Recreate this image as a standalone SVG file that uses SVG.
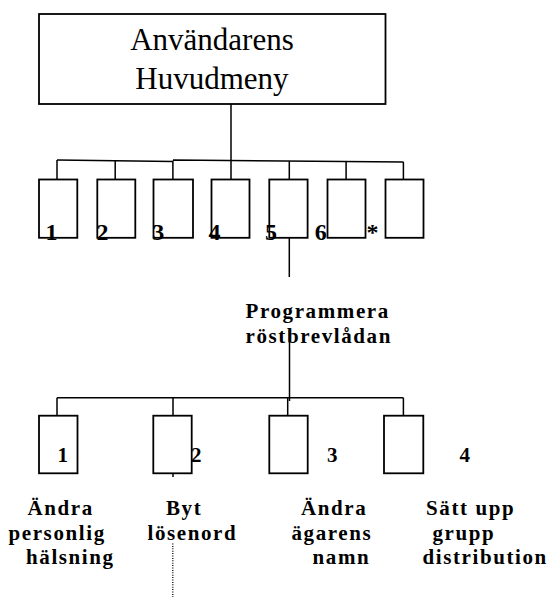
<svg xmlns="http://www.w3.org/2000/svg" width="551" height="597" viewBox="0 0 551 597">
<style>
.box{fill:#fff;stroke:#000;stroke-width:1.8}
.ln{fill:none;stroke:#000;stroke-width:1.5}
.dot{fill:none;stroke:#000;stroke-width:1.3;stroke-dasharray:1 1.4}
</style>
<rect width="551" height="597" fill="#fff"/>
<g id="connectors">
<path class="ln" d="M231 104 V160.5"/>
<path class="ln" d="M57 160 L173 161.5 M173 160 L403.4 162"/>
<path class="ln" d="M57 160 V179.5 M115.2 160.5 V179.5 M172.9 160.8 V179.5 M231 160.5 V179.5 M289.3 161 V179.5 M346.1 161.5 V179.5 M403.4 162 V179.5"/>
<path class="ln" d="M289.3 236 V277"/>
<path class="ln" d="M289.5 330 V401"/>
<path class="ln" d="M57 397.7 H403.4"/>
<path class="ln" d="M57 397.7 V415.7 M173 397.7 V415.7 M287.7 397.7 V415.7 M403.4 397.7 V415.7"/>
<path class="ln" d="M173 473 V477"/>
<path class="dot" d="M172.8 543.5 V597"/>
</g>
<g id="main-menu">
<rect class="box" x="39" y="14" width="346.5" height="90"/>
<text style="font-family:'Liberation Serif',serif;font-size:31px" x="212" y="50" text-anchor="middle">Användarens</text>
<text style="font-family:'Liberation Serif',serif;font-size:31px" x="212" y="89" text-anchor="middle">Huvudmeny</text>
</g>
<g id="m1"><rect class="box" x="39" y="179.5" width="38.3" height="58.3"/><text style="font-family:'Liberation Serif',serif;font-size:24px;font-weight:bold" x="45.5" y="240">1</text></g>
<g id="m2"><rect class="box" x="97.3" y="179.5" width="38" height="58.3"/><text style="font-family:'Liberation Serif',serif;font-size:24px;font-weight:bold" x="96.5" y="240">2</text></g>
<g id="m3"><rect class="box" x="153.5" y="179.5" width="39.5" height="58.3"/><text style="font-family:'Liberation Serif',serif;font-size:24px;font-weight:bold" x="152.3" y="240">3</text></g>
<g id="m4"><rect class="box" x="211.5" y="179.5" width="38" height="58.3"/><text style="font-family:'Liberation Serif',serif;font-size:24px;font-weight:bold" x="208.5" y="240">4</text></g>
<g id="m5"><rect class="box" x="269.3" y="179.5" width="38.3" height="58.3"/><text style="font-family:'Liberation Serif',serif;font-size:24px;font-weight:bold" x="265" y="240">5</text></g>
<g id="m6"><rect class="box" x="327.5" y="179.5" width="38" height="58.3"/><text style="font-family:'Liberation Serif',serif;font-size:24px;font-weight:bold" x="314.8" y="240">6</text></g>
<g id="mstar"><rect class="box" x="385.5" y="179.5" width="38" height="58.3"/><text style="font-family:'Liberation Serif',serif;font-size:24px;font-weight:bold" x="366.5" y="240">*</text></g>
<g id="program">
<text style="font-family:'Liberation Serif',serif;font-size:21px;font-weight:bold;letter-spacing:1.6px" x="245.5" y="318">Programmera</text>
<text style="font-family:'Liberation Serif',serif;font-size:21px;font-weight:bold;letter-spacing:1.6px" x="245.5" y="343">röstbrevlådan</text>
</g>
<g id="s1"><rect class="box" x="39" y="415.7" width="38.5" height="57.6"/>
<text style="font-family:'Liberation Serif',serif;font-size:21px;font-weight:bold" x="57.5" y="462">1</text>
<text style="font-family:'Liberation Serif',serif;font-size:21px;font-weight:bold;letter-spacing:1.6px" x="27.5" y="515">Ändra</text>
<text style="font-family:'Liberation Serif',serif;font-size:21px;font-weight:bold;letter-spacing:1.6px" x="8.5" y="539.5">personlig</text>
<text style="font-family:'Liberation Serif',serif;font-size:21px;font-weight:bold;letter-spacing:1.6px" x="26" y="564">hälsning</text></g>
<g id="s2"><rect class="box" x="153.3" y="415.7" width="38.4" height="57.6"/>
<text style="font-family:'Liberation Serif',serif;font-size:21px;font-weight:bold" x="191" y="462">2</text>
<text style="font-family:'Liberation Serif',serif;font-size:21px;font-weight:bold;letter-spacing:1.6px" x="166" y="515">Byt</text>
<text style="font-family:'Liberation Serif',serif;font-size:21px;font-weight:bold;letter-spacing:1.6px" x="147.5" y="539.5">lösenord</text></g>
<g id="s3"><rect class="box" x="269.3" y="415.7" width="38.4" height="57.6"/>
<text style="font-family:'Liberation Serif',serif;font-size:21px;font-weight:bold" x="327" y="462">3</text>
<text style="font-family:'Liberation Serif',serif;font-size:21px;font-weight:bold;letter-spacing:1.6px" x="301" y="515">Ändra</text>
<text style="font-family:'Liberation Serif',serif;font-size:21px;font-weight:bold;letter-spacing:1.6px" x="291.5" y="539.5">ägarens</text>
<text style="font-family:'Liberation Serif',serif;font-size:21px;font-weight:bold;letter-spacing:1.6px" x="312.5" y="564">namn</text></g>
<g id="s4"><rect class="box" x="384" y="415.7" width="39.3" height="57.6"/>
<text style="font-family:'Liberation Serif',serif;font-size:21px;font-weight:bold" x="459.5" y="462">4</text>
<text style="font-family:'Liberation Serif',serif;font-size:21px;font-weight:bold;letter-spacing:1.6px" x="426" y="515">Sätt upp</text>
<text style="font-family:'Liberation Serif',serif;font-size:21px;font-weight:bold;letter-spacing:1.6px" x="432.5" y="539.5">grupp</text>
<text style="font-family:'Liberation Serif',serif;font-size:21px;font-weight:bold;letter-spacing:1.6px" x="422.5" y="564">distribution</text></g>
</svg>
